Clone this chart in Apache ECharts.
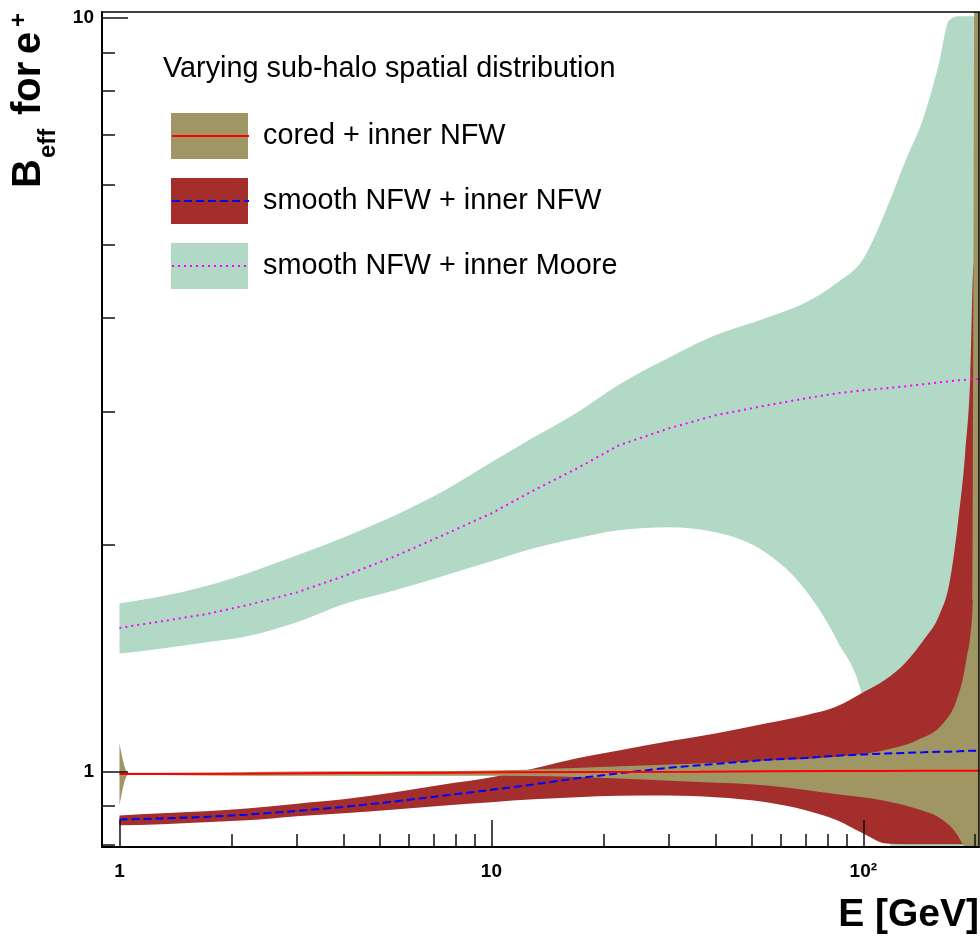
<!DOCTYPE html>
<html>
<head>
<meta charset="utf-8">
<title>B_eff for e+</title>
<script src="https://cdn.jsdelivr.net/npm/echarts@6/dist/echarts.min.js"></script>
<style>
  html, body { margin: 0; padding: 0; background: #ffffff; }
  #chart { width: 980px; height: 936px; }
</style>
</head>
<body>
<div id="chart"></div>
<script>
// Energy grid [GeV] shared by the sub-halo bands and their central curves
const energy = [1, 1.3, 1.7, 2.2, 3, 4, 5.5, 7.5, 10, 13, 17, 22, 30, 40, 55, 70, 85, 100,
                115, 130, 145, 160, 170, 180, 188, 194, 198, 201, 205];

// smooth NFW + inner Moore
const mooreHigh = [1.671, 1.707, 1.760, 1.831, 1.935, 2.044, 2.186, 2.360, 2.571, 2.776, 2.995, 3.26,
                   3.54, 3.79, 4.00, 4.19, 4.45, 4.79, 5.55, 6.47, 7.36, 8.73, 9.92, 10.05, 10.05,
                   10.05, 10.05, 10.05, 10.05];
const mooreMid  = [1.550, 1.582, 1.616, 1.661, 1.728, 1.815, 1.929, 2.063, 2.200, 2.360, 2.524, 2.708,
                   2.852, 2.968, 3.060, 3.126, 3.175, 3.204, 3.224, 3.244, 3.264, 3.283, 3.293, 3.303,
                   3.308, 3.313, 3.313, 3.316, 3.318];
const mooreLow  = [1.433, 1.456, 1.483, 1.511, 1.577, 1.666, 1.739, 1.820, 1.900, 1.977, 2.039, 2.089,
                   2.108, 2.076, 1.947, 1.739, 1.492, 1.242, 0.81, 0.78, 0.78, 0.78, 0.78, 0.78,
                   0.78, 0.78, 0.78, 0.78, 0.78];

// smooth NFW + inner NFW
const nfwHigh = [0.874, 0.880, 0.885, 0.893, 0.906, 0.918, 0.938, 0.961, 0.982, 1.009, 1.041, 1.066,
                 1.096, 1.123, 1.158, 1.187, 1.220, 1.273, 1.325, 1.395, 1.492, 1.611, 1.766, 2.153,
                 2.65, 3.35, 4.7, 4.7, 4.7];
const nfwMid  = [0.863, 0.866, 0.870, 0.876, 0.886, 0.897, 0.912, 0.929, 0.945, 0.961, 0.979, 0.994,
                 1.011, 1.023, 1.036, 1.042, 1.049, 1.053, 1.056, 1.058, 1.060, 1.062, 1.062, 1.063,
                 1.064, 1.065, 1.065, 1.065, 1.065];
const nfwLow  = [0.848, 0.851, 0.856, 0.861, 0.872, 0.880, 0.890, 0.901, 0.910, 0.918, 0.924, 0.928,
                 0.929, 0.924, 0.910, 0.888, 0.861, 0.827, 0.802, 0.80, 0.80, 0.80, 0.80, 0.80,
                 0.80, 0.80, 0.80, 0.80, 0.80];

// cored + inner NFW (own energy grid: narrow spike at 1 GeV, blow-up near the end)
const coredEnergy = [1, 1.055, 1.3, 2.2, 4, 7.5, 10.6, 19.6, 36.3, 55, 83, 113, 139, 164, 178, 186,
                     190, 194, 197, 199, 205];
const coredHigh = [1.089, 0.996, 0.996, 0.998, 1.0, 1.001, 1.003, 1.013, 1.024, 1.034, 1.045, 1.066,
                   1.099, 1.158, 1.242, 1.341, 1.425, 1.515, 1.686, 12, 12];
const coredMid  = [0.992, 0.992, 0.992, 0.993, 0.995, 0.996, 0.997, 0.998, 0.999, 1.0, 1.001, 1.001,
                   1.0015, 1.0015, 1.0015, 1.0015, 1.0015, 1.0015, 1.0015, 1.0015, 1.0015];
const coredLow  = [0.901, 0.990, 0.989, 0.987, 0.987, 0.987, 0.987, 0.981, 0.968, 0.958, 0.934, 0.915,
                   0.892, 0.861, 0.827, 0.798, 0.79, 0.78, 0.7, 0.7, 0.7];

// Axis ticks
const xMajorTicks = [1, 10, 100];
const xMinorTicks = [2, 3, 4, 5, 6, 7, 8, 9, 20, 30, 40, 50, 60, 70, 80, 90, 200];
const yMajorTicks = [1, 10];
const yMinorTicks = [0.8, 0.9, 2, 3, 4, 5, 6, 7, 8, 9];

const legendTitle = 'Varying sub-halo spatial distribution';
const bandNames = ['cored + inner NFW', 'smooth NFW + inner NFW', 'smooth NFW + inner Moore'];
const curveNames = ['cored + inner NFW, central', 'smooth NFW + inner NFW, central',
                    'smooth NFW + inner Moore, central'];

const X_MIN = 0.8974, X_MAX = 204.7;
const Y_MIN = 0.7936, Y_MAX = 10.18;

const FONT = '"Liberation Sans", Arial, Helvetica, sans-serif';
const KHAKI = '#a09664';
const BRICK = '#a32e2c';
const MINT = '#b2d8c6';

function pairs(xs, ys) { return xs.map((x, i) => [x, ys[i]]); }
function rows(xs, lo, hi) { return xs.map((x, i) => [x, lo[i], hi[i]]); }

// Monotone cubic tangents (pixel space) so band edges stay smooth without overshoot
function tangents(p) {
  const n = p.length, t = new Array(n).fill(0), s = [];
  for (let i = 0; i < n - 1; i++) {
    const h = p[i + 1][0] - p[i][0];
    s.push(h !== 0 ? (p[i + 1][1] - p[i][1]) / h : 0);
  }
  for (let i = 1; i < n - 1; i++) {
    const h0 = p[i][0] - p[i - 1][0], h1 = p[i + 1][0] - p[i][0];
    const s0 = s[i - 1], s1 = s[i];
    const q = (s0 * h1 + s1 * h0) / (h0 + h1);
    t[i] = (Math.sign(s0) + Math.sign(s1)) * Math.min(Math.abs(s0), Math.abs(s1), 0.5 * Math.abs(q)) || 0;
  }
  t[0] = n > 2 ? (3 * s[0] - t[1]) / 2 : s[0];
  t[n - 1] = n > 2 ? (3 * s[n - 2] - t[n - 2]) / 2 : s[n - 2];
  if (Math.sign(t[0]) !== Math.sign(s[0])) t[0] = 0;
  if (Math.sign(t[n - 1]) !== Math.sign(s[n - 2])) t[n - 1] = 0;
  return t;
}

function curveTo(p, t, out) {
  for (let i = 0; i < p.length - 1; i++) {
    const dx = (p[i + 1][0] - p[i][0]) / 3;
    out.push('C', p[i][0] + dx, p[i][1] + dx * t[i],
             p[i + 1][0] - dx, p[i + 1][1] - dx * t[i + 1], p[i + 1][0], p[i + 1][1]);
  }
}

// Whole band drawn once: upper edge left->right, lower edge back, through the axes' scales
function renderBand(params, api) {
  if (params.dataIndexInside !== 0) return null;
  const n = params.dataInsideLength;
  const upper = [], lower = [];
  for (let j = 0; j < n; j++) {
    const x = api.value(0, j);
    upper.push(api.coord([x, api.value(2, j)]));
    lower.push(api.coord([x, api.value(1, j)]));
  }
  const tu = tangents(upper);
  const tl = tangents(lower).reverse();
  const lowerBack = lower.slice().reverse();
  const d = ['M', upper[0][0], upper[0][1]];
  curveTo(upper, tu, d);
  d.push('L', lowerBack[0][0], lowerBack[0][1]);
  curveTo(lowerBack, tl, d);
  d.push('Z');
  const pathData = d.map(v => (typeof v === 'number' ? v.toFixed(2) : v)).join(' ');
  const cs = params.coordSys;
  return {
    type: 'path',
    shape: { pathData: pathData },
    style: { fill: api.visual('color') },
    clipPath: { type: 'rect', shape: { x: cs.x, y: cs.y, width: cs.width, height: cs.height } }
  };
}

function band(name, xs, lo, hi, color) {
  return {
    type: 'custom', name: name, coordinateSystem: 'cartesian2d', silent: true,
    data: rows(xs, lo, hi), encode: { x: 0, y: [1, 2] },
    itemStyle: { color: color },
    renderItem: renderBand
  };
}

function curve(name, xs, ys, color, dash) {
  return {
    type: 'line', name: name, data: pairs(xs, ys), symbol: 'none', silent: true, color: color,
    lineStyle: { color: color, width: 2, type: dash }
  };
}

function logAxis(extra, min, max) {
  return Object.assign({
    type: 'log', logBase: 10, min: min, max: max, z: 10,
    splitLine: { show: false }, minorTick: { show: false }, minorSplitLine: { show: false },
    axisLine: { show: false, onZero: false },
    axisTick: { show: false },
    axisLabel: { show: false }
  }, extra);
}

const tickStyle = { color: '#111', width: 1.5 };
const labelStyle = { color: '#000', fontFamily: FONT, fontSize: 19, fontWeight: 'bold' };

function tickLabel(v) {
  const p = Math.round(Math.log10(v));
  if (p === 0) return '1';
  if (p === 1) return '10';
  return '10²';
}

// Legend: filled boxes with names, then one line-sample legend per central curve on top
const legends = [{
  data: bandNames, orient: 'vertical', left: 171, top: 113, padding: 0,
  itemWidth: 77, itemHeight: 46, itemGap: 19, icon: 'rect', selectedMode: false,
  itemStyle: { opacity: 1, borderWidth: 0 },
  textStyle: { fontFamily: FONT, fontSize: 28.8, color: '#000', padding: [5, 0, 0, 10] }
}].concat(curveNames.map((name, k) => ({
  data: [name], orient: 'vertical', left: 171, top: 113 + 65 * k, padding: 0, z: 6,
  itemWidth: 77, itemHeight: 46, selectedMode: false,
  itemStyle: { opacity: 0 },
  formatter: function () { return ''; },
  textStyle: { fontSize: 28 }
})));

const chart = echarts.init(document.getElementById('chart'), null, { renderer: 'canvas' });

chart.setOption({
  animation: false,
  backgroundColor: '#ffffff',
  textStyle: { fontFamily: FONT },
  grid: { left: 102, right: 1, top: 12, bottom: 89, containLabel: false, outerBoundsMode: 'none' },
  title: {
    text: legendTitle, left: 163, top: 55, padding: 0,
    textStyle: { fontFamily: FONT, fontSize: 28.8, fontWeight: 'normal', color: '#000' }
  },
  legend: legends,
  xAxis: [
    logAxis({
      position: 'bottom',
      axisLine: { show: true, onZero: false, lineStyle: { color: '#000', width: 2 } },
      axisTick: { show: true, inside: true, length: 27, customValues: xMajorTicks, lineStyle: tickStyle },
      axisLabel: Object.assign({ show: true, customValues: xMajorTicks, margin: 15, formatter: tickLabel }, labelStyle)
    }, X_MIN, X_MAX),
    logAxis({
      position: 'bottom',
      axisTick: { show: true, inside: true, length: 13, customValues: xMinorTicks, lineStyle: tickStyle }
    }, X_MIN, X_MAX),
    logAxis({
      position: 'top',
      axisLine: { show: true, onZero: false, lineStyle: { color: '#000', width: 1.5 } }
    }, X_MIN, X_MAX)
  ],
  yAxis: [
    logAxis({
      position: 'left',
      axisLine: { show: true, onZero: false, lineStyle: { color: '#000', width: 2 } },
      axisTick: { show: true, inside: true, length: 26, customValues: yMajorTicks, lineStyle: tickStyle },
      axisLabel: Object.assign({ show: true, customValues: yMajorTicks, margin: 8, formatter: tickLabel,
                                 padding: [2, 0, 0, 0] }, labelStyle)
    }, Y_MIN, Y_MAX),
    logAxis({
      position: 'left',
      axisTick: { show: true, inside: true, length: 13, customValues: yMinorTicks, lineStyle: tickStyle }
    }, Y_MIN, Y_MAX),
    logAxis({
      position: 'right',
      axisLine: { show: true, onZero: false, lineStyle: { color: '#000', width: 1.5 } }
    }, Y_MIN, Y_MAX)
  ],
  series: [
    band(bandNames[2], energy, mooreLow, mooreHigh, MINT),
    curve(curveNames[2], energy, mooreMid, '#ff00ff', [2, 4]),
    band(bandNames[1], energy, nfwLow, nfwHigh, BRICK),
    band(bandNames[0], coredEnergy, coredLow, coredHigh, KHAKI),
    curve(curveNames[1], energy, nfwMid, '#0000ff', [8, 4]),
    curve(curveNames[0], coredEnergy, coredMid, '#ff0000', 'solid')
  ],
  graphic: [
    {
      type: 'text', x: 979, y: 914.8, z: 20,
      style: { text: 'E [GeV]', fontFamily: FONT, fontSize: 39, fontWeight: 'bold', fill: '#000',
               textAlign: 'right', textVerticalAlign: 'middle' }
    },
    {
      type: 'group', x: 43.3, y: 188, rotation: Math.PI / 2, z: 20,
      children: [
        { type: 'text', x: 0, y: -13.9,
          style: { text: 'B', fontFamily: FONT, fontSize: 40, fontWeight: 'bold', fill: '#000',
                   textAlign: 'left', textVerticalAlign: 'middle' } },
        { type: 'text', x: 30, y: 5.4,
          style: { text: 'eff', fontFamily: FONT, fontSize: 24, fontWeight: 'bold', fill: '#000',
                   textAlign: 'left', textVerticalAlign: 'middle' } },
        { type: 'text', x: 73, y: -13.9,
          style: { text: 'for', fontFamily: FONT, fontSize: 40, fontWeight: 'bold', fill: '#000',
                   textAlign: 'left', textVerticalAlign: 'middle' } },
        { type: 'text', x: 134, y: -13.9,
          style: { text: 'e', fontFamily: FONT, fontSize: 40, fontWeight: 'bold', fill: '#000',
                   textAlign: 'left', textVerticalAlign: 'middle' } },
        { type: 'text', x: 161, y: -23.6,
          style: { text: '+', fontFamily: FONT, fontSize: 24, fontWeight: 'bold', fill: '#000',
                   textAlign: 'left', textVerticalAlign: 'middle' } }
      ]
    }
  ]
});
</script>
</body>
</html>
